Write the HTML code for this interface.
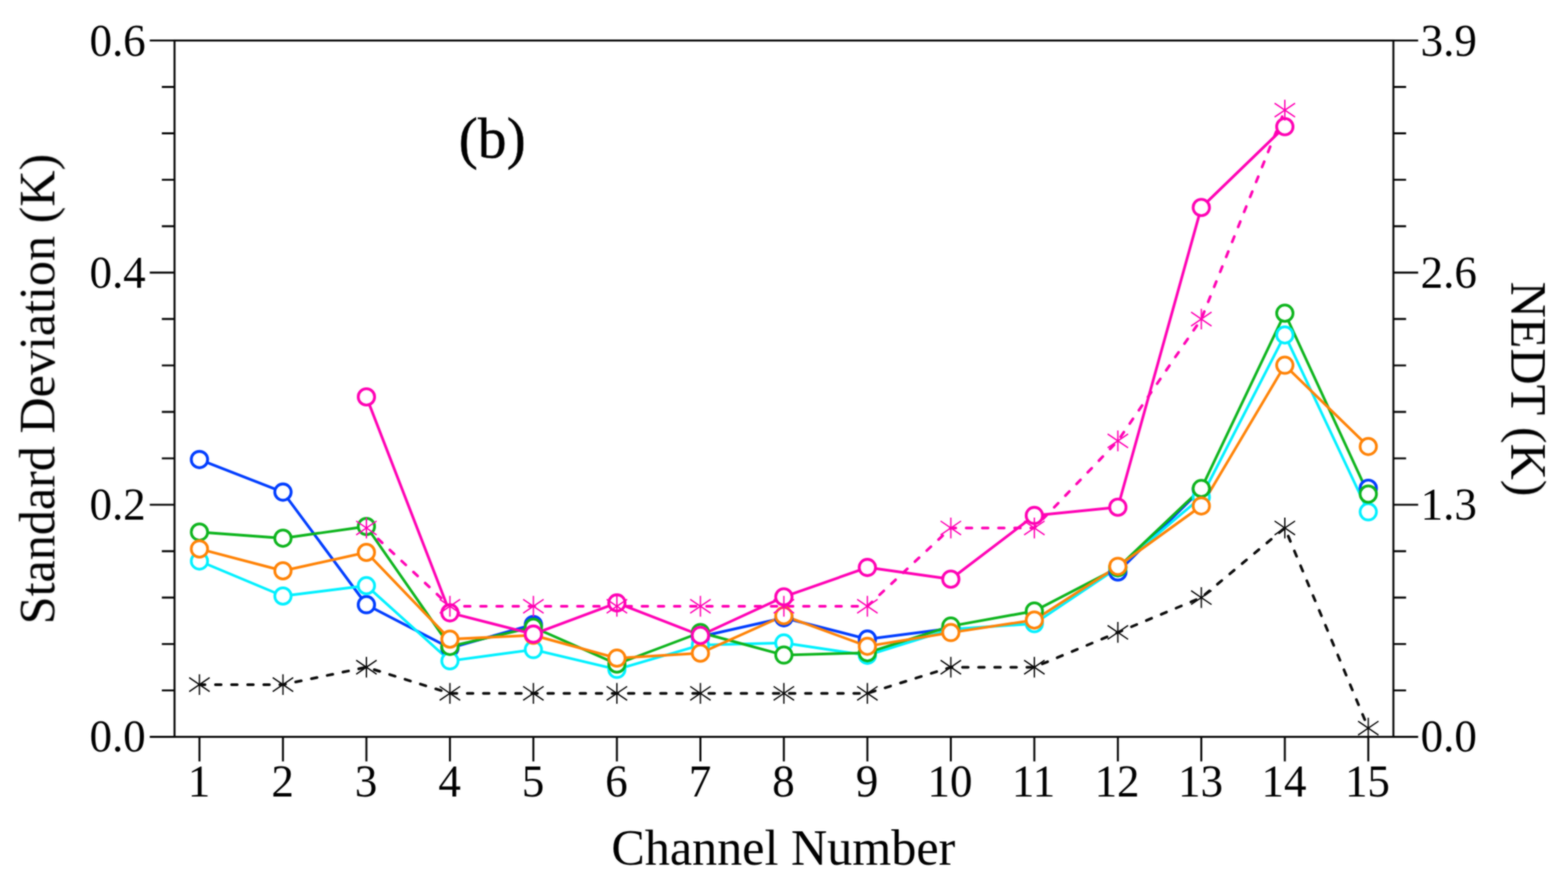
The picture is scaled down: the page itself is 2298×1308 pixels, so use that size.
<!DOCTYPE html>
<html lang="en"><head><meta charset="utf-8"><title>Standard Deviation and NEDT by Channel Number</title>
<style>html,body{margin:0;padding:0;background:#fff;overflow:hidden}svg{display:block}</style></head>
<body>
<svg width="2298" height="1308" viewBox="0 0 2298 1308">
<rect width="2298" height="1308" fill="#fff"/>
<defs><filter id="bl" color-interpolation-filters="sRGB" filterUnits="userSpaceOnUse" x="0" y="0" width="2298" height="1308"><feGaussianBlur in="SourceGraphic" stdDeviation="1" result="b"/><feComposite in="b" in2="SourceGraphic" operator="arithmetic" k1="0" k2="0.75" k3="0.25" k4="0"/></filter><clipPath id="pc"><rect x="255.8" y="59.4" width="1786.3" height="1021.1"/></clipPath></defs>
<g filter="url(#bl)">
<g clip-path="url(#pc)">
<polyline points="292.3,673.8 414.7,721.6 537.0,886.7 659.4,950.3 781.7,915.8" fill="none" stroke="#003cff" stroke-width="4.1" stroke-linejoin="round"/>
<polyline points="1026.5,933.6 1148.8,905.9 1271.2,937.2 1393.5,921.5" fill="none" stroke="#003cff" stroke-width="4.1" stroke-linejoin="round"/>
<polyline points="1638.3,838.7 1760.6,717.5" fill="none" stroke="#003cff" stroke-width="4.1" stroke-linejoin="round"/>
<polyline points="292.3,822.7 414.7,874.0 537.0,858.8 659.4,969.1 781.7,952.6 904.1,981.6 1026.5,945.9 1148.8,942.8 1271.2,960.9 1393.5,922.7 1515.9,914.5 1638.3,832.5 1760.6,729.0 1883.0,491.2 2005.3,750.6" fill="none" stroke="#00f0ff" stroke-width="3.9" stroke-linejoin="round"/>
<polyline points="292.3,780.2 414.7,789.2 537.0,772.0 659.4,947.9 781.7,919.7 904.1,973.8 1026.5,927.5 1148.8,960.6 1271.2,957.2 1393.5,918.1 1515.9,896.0 1638.3,832.4 1760.6,716.3 1883.0,459.3 2005.3,724.5" fill="none" stroke="#0cb41c" stroke-width="3.9" stroke-linejoin="round"/>
<polyline points="292.3,804.9 414.7,837.0 537.0,810.0 659.4,937.3 781.7,931.5 904.1,965.1 1026.5,957.8 1148.8,902.8 1271.2,947.7 1393.5,927.6 1515.9,909.2 1638.3,830.4 1760.6,741.9 1883.0,535.6 2005.3,654.7" fill="none" stroke="#ff8205" stroke-width="3.9" stroke-linejoin="round"/>
<polyline points="537.0,582.0 659.4,898.6 781.7,929.9 904.1,884.1 1026.5,931.7 1148.8,875.2 1271.2,832.1 1393.5,849.2 1515.9,755.9 1638.3,743.7 1760.6,304.2 1883.0,185.7" fill="none" stroke="#ff00b4" stroke-width="4.0" stroke-linejoin="round"/>
<polyline points="537.0,774.2 659.4,889.0 781.7,889.0 904.1,889.0 1026.5,889.0 1148.8,889.0 1271.2,889.0 1393.5,774.2 1515.9,774.2 1638.3,646.5 1760.6,467.9 1883.0,161.5" fill="none" stroke="#ff00b4" stroke-width="4.0" stroke-dasharray="8.4 15.26" stroke-dashoffset="0.2" stroke-linecap="round"/>
<polyline points="292.3,1003.9 414.7,1003.9 537.0,978.4 659.4,1016.7 781.7,1016.7 904.1,1016.7 1026.5,1016.7 1148.8,1016.7 1271.2,1016.7 1393.5,978.4 1515.9,978.4 1638.3,927.3 1760.6,876.3 1883.0,774.2 2005.3,1067.7" fill="none" stroke="#0a0a0a" stroke-width="4.0" stroke-dasharray="8.4 15.2" stroke-dashoffset="0.2" stroke-linecap="round"/>
<ellipse cx="292.3" cy="673.8" rx="12.0" ry="12.0" fill="#fff" stroke="#003cff" stroke-width="4.2"/>
<ellipse cx="414.7" cy="721.6" rx="12.0" ry="12.0" fill="#fff" stroke="#003cff" stroke-width="4.2"/>
<ellipse cx="537.0" cy="886.7" rx="12.0" ry="12.0" fill="#fff" stroke="#003cff" stroke-width="4.2"/>
<ellipse cx="659.4" cy="950.3" rx="12.0" ry="12.0" fill="#fff" stroke="#003cff" stroke-width="4.2"/>
<ellipse cx="781.7" cy="915.8" rx="12.0" ry="12.0" fill="#fff" stroke="#003cff" stroke-width="4.2"/>
<ellipse cx="1026.5" cy="933.6" rx="12.0" ry="12.0" fill="#fff" stroke="#003cff" stroke-width="4.2"/>
<ellipse cx="1148.8" cy="905.9" rx="12.0" ry="12.0" fill="#fff" stroke="#003cff" stroke-width="4.2"/>
<ellipse cx="1271.2" cy="937.2" rx="12.0" ry="12.0" fill="#fff" stroke="#003cff" stroke-width="4.2"/>
<ellipse cx="1393.5" cy="921.5" rx="12.0" ry="12.0" fill="#fff" stroke="#003cff" stroke-width="4.2"/>
<ellipse cx="1638.3" cy="838.7" rx="12.0" ry="12.0" fill="#fff" stroke="#003cff" stroke-width="4.2"/>
<ellipse cx="1760.6" cy="717.5" rx="12.0" ry="12.0" fill="#fff" stroke="#003cff" stroke-width="4.2"/>
<ellipse cx="2005.3" cy="716.0" rx="12.0" ry="12.0" fill="#fff" stroke="#003cff" stroke-width="4.2"/>
<ellipse cx="292.3" cy="822.7" rx="12.0" ry="12.0" fill="#fff" stroke="#00f0ff" stroke-width="4.0"/>
<ellipse cx="414.7" cy="874.0" rx="12.0" ry="12.0" fill="#fff" stroke="#00f0ff" stroke-width="4.0"/>
<ellipse cx="537.0" cy="858.8" rx="12.0" ry="12.0" fill="#fff" stroke="#00f0ff" stroke-width="4.0"/>
<ellipse cx="659.4" cy="969.1" rx="12.0" ry="12.0" fill="#fff" stroke="#00f0ff" stroke-width="4.0"/>
<ellipse cx="781.7" cy="952.6" rx="12.0" ry="12.0" fill="#fff" stroke="#00f0ff" stroke-width="4.0"/>
<ellipse cx="904.1" cy="981.6" rx="12.0" ry="12.0" fill="#fff" stroke="#00f0ff" stroke-width="4.0"/>
<ellipse cx="1026.5" cy="945.9" rx="12.0" ry="12.0" fill="#fff" stroke="#00f0ff" stroke-width="4.0"/>
<ellipse cx="1148.8" cy="942.8" rx="12.0" ry="12.0" fill="#fff" stroke="#00f0ff" stroke-width="4.0"/>
<ellipse cx="1271.2" cy="960.9" rx="12.0" ry="12.0" fill="#fff" stroke="#00f0ff" stroke-width="4.0"/>
<ellipse cx="1393.5" cy="922.7" rx="12.0" ry="12.0" fill="#fff" stroke="#00f0ff" stroke-width="4.0"/>
<ellipse cx="1515.9" cy="914.5" rx="12.0" ry="12.0" fill="#fff" stroke="#00f0ff" stroke-width="4.0"/>
<ellipse cx="1638.3" cy="832.5" rx="12.0" ry="12.0" fill="#fff" stroke="#00f0ff" stroke-width="4.0"/>
<ellipse cx="1760.6" cy="729.0" rx="12.0" ry="12.0" fill="#fff" stroke="#00f0ff" stroke-width="4.0"/>
<ellipse cx="1883.0" cy="491.2" rx="12.0" ry="12.0" fill="#fff" stroke="#00f0ff" stroke-width="4.0"/>
<ellipse cx="2005.3" cy="750.6" rx="12.0" ry="12.0" fill="#fff" stroke="#00f0ff" stroke-width="4.0"/>
<ellipse cx="292.3" cy="780.2" rx="12.0" ry="12.0" fill="#fff" stroke="#0cb41c" stroke-width="4.0"/>
<ellipse cx="414.7" cy="789.2" rx="12.0" ry="12.0" fill="#fff" stroke="#0cb41c" stroke-width="4.0"/>
<ellipse cx="537.0" cy="772.0" rx="12.0" ry="12.0" fill="#fff" stroke="#0cb41c" stroke-width="4.0"/>
<ellipse cx="659.4" cy="947.9" rx="12.0" ry="12.0" fill="#fff" stroke="#0cb41c" stroke-width="4.0"/>
<ellipse cx="781.7" cy="919.7" rx="12.0" ry="12.0" fill="#fff" stroke="#0cb41c" stroke-width="4.0"/>
<ellipse cx="904.1" cy="973.8" rx="12.0" ry="12.0" fill="#fff" stroke="#0cb41c" stroke-width="4.0"/>
<ellipse cx="1026.5" cy="927.5" rx="12.0" ry="12.0" fill="#fff" stroke="#0cb41c" stroke-width="4.0"/>
<ellipse cx="1148.8" cy="960.6" rx="12.0" ry="12.0" fill="#fff" stroke="#0cb41c" stroke-width="4.0"/>
<ellipse cx="1271.2" cy="957.2" rx="12.0" ry="12.0" fill="#fff" stroke="#0cb41c" stroke-width="4.0"/>
<ellipse cx="1393.5" cy="918.1" rx="12.0" ry="12.0" fill="#fff" stroke="#0cb41c" stroke-width="4.0"/>
<ellipse cx="1515.9" cy="896.0" rx="12.0" ry="12.0" fill="#fff" stroke="#0cb41c" stroke-width="4.0"/>
<ellipse cx="1638.3" cy="832.4" rx="12.0" ry="12.0" fill="#fff" stroke="#0cb41c" stroke-width="4.0"/>
<ellipse cx="1760.6" cy="716.3" rx="12.0" ry="12.0" fill="#fff" stroke="#0cb41c" stroke-width="4.0"/>
<ellipse cx="1883.0" cy="459.3" rx="12.0" ry="12.0" fill="#fff" stroke="#0cb41c" stroke-width="4.0"/>
<ellipse cx="2005.3" cy="724.5" rx="12.0" ry="12.0" fill="#fff" stroke="#0cb41c" stroke-width="4.0"/>
<ellipse cx="292.3" cy="804.9" rx="12.0" ry="12.0" fill="#fff" stroke="#ff8205" stroke-width="4.0"/>
<ellipse cx="414.7" cy="837.0" rx="12.0" ry="12.0" fill="#fff" stroke="#ff8205" stroke-width="4.0"/>
<ellipse cx="537.0" cy="810.0" rx="12.0" ry="12.0" fill="#fff" stroke="#ff8205" stroke-width="4.0"/>
<ellipse cx="659.4" cy="937.3" rx="12.0" ry="12.0" fill="#fff" stroke="#ff8205" stroke-width="4.0"/>
<ellipse cx="781.7" cy="931.5" rx="12.0" ry="12.0" fill="#fff" stroke="#ff8205" stroke-width="4.0"/>
<ellipse cx="904.1" cy="965.1" rx="12.0" ry="12.0" fill="#fff" stroke="#ff8205" stroke-width="4.0"/>
<ellipse cx="1026.5" cy="957.8" rx="12.0" ry="12.0" fill="#fff" stroke="#ff8205" stroke-width="4.0"/>
<ellipse cx="1148.8" cy="902.8" rx="12.0" ry="12.0" fill="#fff" stroke="#ff8205" stroke-width="4.0"/>
<ellipse cx="1271.2" cy="947.7" rx="12.0" ry="12.0" fill="#fff" stroke="#ff8205" stroke-width="4.0"/>
<ellipse cx="1393.5" cy="927.6" rx="12.0" ry="12.0" fill="#fff" stroke="#ff8205" stroke-width="4.0"/>
<ellipse cx="1515.9" cy="909.2" rx="12.0" ry="12.0" fill="#fff" stroke="#ff8205" stroke-width="4.0"/>
<ellipse cx="1638.3" cy="830.4" rx="12.0" ry="12.0" fill="#fff" stroke="#ff8205" stroke-width="4.0"/>
<ellipse cx="1760.6" cy="741.9" rx="12.0" ry="12.0" fill="#fff" stroke="#ff8205" stroke-width="4.0"/>
<ellipse cx="1883.0" cy="535.6" rx="12.0" ry="12.0" fill="#fff" stroke="#ff8205" stroke-width="4.0"/>
<ellipse cx="2005.3" cy="654.7" rx="12.0" ry="12.0" fill="#fff" stroke="#ff8205" stroke-width="4.0"/>
<ellipse cx="537.0" cy="582.0" rx="12.0" ry="12.0" fill="#fff" stroke="#ff00b4" stroke-width="4.1"/>
<ellipse cx="659.4" cy="898.6" rx="12.0" ry="12.0" fill="#fff" stroke="#ff00b4" stroke-width="4.1"/>
<ellipse cx="781.7" cy="929.9" rx="12.0" ry="12.0" fill="#fff" stroke="#ff00b4" stroke-width="4.1"/>
<ellipse cx="904.1" cy="884.1" rx="12.0" ry="12.0" fill="#fff" stroke="#ff00b4" stroke-width="4.1"/>
<ellipse cx="1026.5" cy="931.7" rx="12.0" ry="12.0" fill="#fff" stroke="#ff00b4" stroke-width="4.1"/>
<ellipse cx="1148.8" cy="875.2" rx="12.0" ry="12.0" fill="#fff" stroke="#ff00b4" stroke-width="4.1"/>
<ellipse cx="1271.2" cy="832.1" rx="12.0" ry="12.0" fill="#fff" stroke="#ff00b4" stroke-width="4.1"/>
<ellipse cx="1393.5" cy="849.2" rx="12.0" ry="12.0" fill="#fff" stroke="#ff00b4" stroke-width="4.1"/>
<ellipse cx="1515.9" cy="755.9" rx="12.0" ry="12.0" fill="#fff" stroke="#ff00b4" stroke-width="4.1"/>
<ellipse cx="1638.3" cy="743.7" rx="12.0" ry="12.0" fill="#fff" stroke="#ff00b4" stroke-width="4.1"/>
<ellipse cx="1760.6" cy="304.2" rx="12.0" ry="12.0" fill="#fff" stroke="#ff00b4" stroke-width="4.1"/>
<ellipse cx="1883.0" cy="185.7" rx="12.0" ry="12.0" fill="#fff" stroke="#ff00b4" stroke-width="4.1"/>
<path d="M537.0 759.0V789.4M522.0 764.0L552.0 784.4M522.0 784.4L552.0 764.0" stroke="#ff00b4" stroke-width="2.0" fill="none"/>
<path d="M659.4 873.8V904.2M644.4 878.8L674.4 899.2M644.4 899.2L674.4 878.8" stroke="#ff00b4" stroke-width="2.0" fill="none"/>
<path d="M781.7 873.8V904.2M766.7 878.8L796.7 899.2M766.7 899.2L796.7 878.8" stroke="#ff00b4" stroke-width="2.0" fill="none"/>
<path d="M904.1 873.8V904.2M889.1 878.8L919.1 899.2M889.1 899.2L919.1 878.8" stroke="#ff00b4" stroke-width="2.0" fill="none"/>
<path d="M1026.5 873.8V904.2M1011.5 878.8L1041.5 899.2M1011.5 899.2L1041.5 878.8" stroke="#ff00b4" stroke-width="2.0" fill="none"/>
<path d="M1148.8 873.8V904.2M1133.8 878.8L1163.8 899.2M1133.8 899.2L1163.8 878.8" stroke="#ff00b4" stroke-width="2.0" fill="none"/>
<path d="M1271.2 873.8V904.2M1256.2 878.8L1286.2 899.2M1256.2 899.2L1286.2 878.8" stroke="#ff00b4" stroke-width="2.0" fill="none"/>
<path d="M1393.5 759.0V789.4M1378.5 764.0L1408.5 784.4M1378.5 784.4L1408.5 764.0" stroke="#ff00b4" stroke-width="2.0" fill="none"/>
<path d="M1515.9 759.0V789.4M1500.9 764.0L1530.9 784.4M1500.9 784.4L1530.9 764.0" stroke="#ff00b4" stroke-width="2.0" fill="none"/>
<path d="M1638.3 631.3V661.7M1623.3 636.3L1653.3 656.7M1623.3 656.7L1653.3 636.3" stroke="#ff00b4" stroke-width="2.0" fill="none"/>
<path d="M1760.6 452.7V483.1M1745.6 457.7L1775.6 478.1M1745.6 478.1L1775.6 457.7" stroke="#ff00b4" stroke-width="2.0" fill="none"/>
<path d="M1883.0 146.3V176.7M1868.0 151.3L1898.0 171.7M1868.0 171.7L1898.0 151.3" stroke="#ff00b4" stroke-width="2.0" fill="none"/>
<path d="M292.3 988.7V1019.1M277.3 993.7L307.3 1014.1M277.3 1014.1L307.3 993.7" stroke="#0a0a0a" stroke-width="2.0" fill="none"/>
<path d="M414.7 988.7V1019.1M399.7 993.7L429.7 1014.1M399.7 1014.1L429.7 993.7" stroke="#0a0a0a" stroke-width="2.0" fill="none"/>
<path d="M537.0 963.2V993.6M522.0 968.2L552.0 988.6M522.0 988.6L552.0 968.2" stroke="#0a0a0a" stroke-width="2.0" fill="none"/>
<path d="M659.4 1001.5V1031.9M644.4 1006.5L674.4 1026.9M644.4 1026.9L674.4 1006.5" stroke="#0a0a0a" stroke-width="2.0" fill="none"/>
<path d="M781.7 1001.5V1031.9M766.7 1006.5L796.7 1026.9M766.7 1026.9L796.7 1006.5" stroke="#0a0a0a" stroke-width="2.0" fill="none"/>
<path d="M904.1 1001.5V1031.9M889.1 1006.5L919.1 1026.9M889.1 1026.9L919.1 1006.5" stroke="#0a0a0a" stroke-width="2.0" fill="none"/>
<path d="M1026.5 1001.5V1031.9M1011.5 1006.5L1041.5 1026.9M1011.5 1026.9L1041.5 1006.5" stroke="#0a0a0a" stroke-width="2.0" fill="none"/>
<path d="M1148.8 1001.5V1031.9M1133.8 1006.5L1163.8 1026.9M1133.8 1026.9L1163.8 1006.5" stroke="#0a0a0a" stroke-width="2.0" fill="none"/>
<path d="M1271.2 1001.5V1031.9M1256.2 1006.5L1286.2 1026.9M1256.2 1026.9L1286.2 1006.5" stroke="#0a0a0a" stroke-width="2.0" fill="none"/>
<path d="M1393.5 963.2V993.6M1378.5 968.2L1408.5 988.6M1378.5 988.6L1408.5 968.2" stroke="#0a0a0a" stroke-width="2.0" fill="none"/>
<path d="M1515.9 963.2V993.6M1500.9 968.2L1530.9 988.6M1500.9 988.6L1530.9 968.2" stroke="#0a0a0a" stroke-width="2.0" fill="none"/>
<path d="M1638.3 912.1V942.5M1623.3 917.1L1653.3 937.5M1623.3 937.5L1653.3 917.1" stroke="#0a0a0a" stroke-width="2.0" fill="none"/>
<path d="M1760.6 861.1V891.5M1745.6 866.1L1775.6 886.5M1745.6 886.5L1775.6 866.1" stroke="#0a0a0a" stroke-width="2.0" fill="none"/>
<path d="M1883.0 759.0V789.4M1868.0 764.0L1898.0 784.4M1868.0 784.4L1898.0 764.0" stroke="#0a0a0a" stroke-width="2.0" fill="none"/>
<path d="M2005.3 1052.5V1082.9M1990.3 1057.5L2020.3 1077.9M1990.3 1077.9L2020.3 1057.5" stroke="#0a0a0a" stroke-width="2.0" fill="none"/>
</g>
<g stroke="#050505" stroke-width="2.9" fill="none">
<rect x="255.8" y="59.4" width="1786.3" height="1021.1"/>
<path d="M219.5 59.4H255.8M2042.1 59.4H2078.4M237.2 127.5H255.8M2042.1 127.5H2060.7M237.2 195.5H255.8M2042.1 195.5H2060.7M237.2 263.6H255.8M2042.1 263.6H2060.7M237.2 331.7H255.8M2042.1 331.7H2060.7M219.5 399.8H255.8M2042.1 399.8H2078.4M237.2 467.8H255.8M2042.1 467.8H2060.7M237.2 535.9H255.8M2042.1 535.9H2060.7M237.2 604.0H255.8M2042.1 604.0H2060.7M237.2 672.1H255.8M2042.1 672.1H2060.7M219.5 740.1H255.8M2042.1 740.1H2078.4M237.2 808.2H255.8M2042.1 808.2H2060.7M237.2 876.3H255.8M2042.1 876.3H2060.7M237.2 944.4H255.8M2042.1 944.4H2060.7M237.2 1012.4H255.8M2042.1 1012.4H2060.7M219.5 1080.5H255.8M2042.1 1080.5H2078.4M292.3 1080.5V1116.5M414.7 1080.5V1116.5M537.0 1080.5V1116.5M659.4 1080.5V1116.5M781.7 1080.5V1116.5M904.1 1080.5V1116.5M1026.5 1080.5V1116.5M1148.8 1080.5V1116.5M1271.2 1080.5V1116.5M1393.5 1080.5V1116.5M1515.9 1080.5V1116.5M1638.3 1080.5V1116.5M1760.6 1080.5V1116.5M1883.0 1080.5V1116.5M2005.3 1080.5V1116.5"/>
</g>
<g font-family="'Liberation Serif', serif" fill="#000" font-size="68px">
<text transform="translate(213.6 82.4) scale(0.97 1.0)" text-anchor="end">0.6</text>
<text transform="translate(213.6 421.6) scale(0.97 1.0)" text-anchor="end">0.4</text>
<text transform="translate(213.6 761.7) scale(0.97 1.0)" text-anchor="end">0.2</text>
<text transform="translate(213.6 1101.5) scale(0.97 1.0)" text-anchor="end">0.0</text>
<text transform="translate(2082 82.4) scale(0.97 1.0)">3.9</text>
<text transform="translate(2082 421.6) scale(0.97 1.0)">2.6</text>
<text transform="translate(2082 761.7) scale(0.97 1.0)">1.3</text>
<text transform="translate(2082 1101.5) scale(0.97 1.0)">0.0</text>
<text transform="translate(291.8 1168.0) scale(0.97 1.0)" text-anchor="middle">1</text>
<text transform="translate(414.2 1168.0) scale(0.97 1.0)" text-anchor="middle">2</text>
<text transform="translate(536.5 1168.0) scale(0.97 1.0)" text-anchor="middle">3</text>
<text transform="translate(658.9 1168.0) scale(0.97 1.0)" text-anchor="middle">4</text>
<text transform="translate(781.2 1168.0) scale(0.97 1.0)" text-anchor="middle">5</text>
<text transform="translate(903.6 1168.0) scale(0.97 1.0)" text-anchor="middle">6</text>
<text transform="translate(1026.0 1168.0) scale(0.97 1.0)" text-anchor="middle">7</text>
<text transform="translate(1148.3 1168.0) scale(0.97 1.0)" text-anchor="middle">8</text>
<text transform="translate(1270.7 1168.0) scale(0.97 1.0)" text-anchor="middle">9</text>
<text transform="translate(1392.3 1168.0) scale(0.97 1.0)" text-anchor="middle">10</text>
<text transform="translate(1514.7 1168.0) scale(0.97 1.0)" text-anchor="middle">11</text>
<text transform="translate(1637.1 1168.0) scale(0.97 1.0)" text-anchor="middle">12</text>
<text transform="translate(1759.4 1168.0) scale(0.97 1.0)" text-anchor="middle">13</text>
<text transform="translate(1881.8 1168.0) scale(0.97 1.0)" text-anchor="middle">14</text>
<text transform="translate(2004.1 1168.0) scale(0.97 1.0)" text-anchor="middle">15</text>
</g>
<g font-family="'Liberation Serif', serif" fill="#000" font-size="73.5px" text-anchor="middle">
<text x="1148" y="1267.9">Channel Number</text>
<text transform="translate(79.6 570.5) rotate(-90)">Standard Deviation (K)</text>
<text transform="translate(2215 570.5) rotate(90)">NEDT (K)</text>
</g>
<text transform="translate(672.3 230.6) scale(0.972 0.98)" font-family="'Liberation Serif', serif" font-size="86.6px" fill="#000" stroke="#000" stroke-width="0.6">(b)</text>
</g>
</svg>
</body></html>
